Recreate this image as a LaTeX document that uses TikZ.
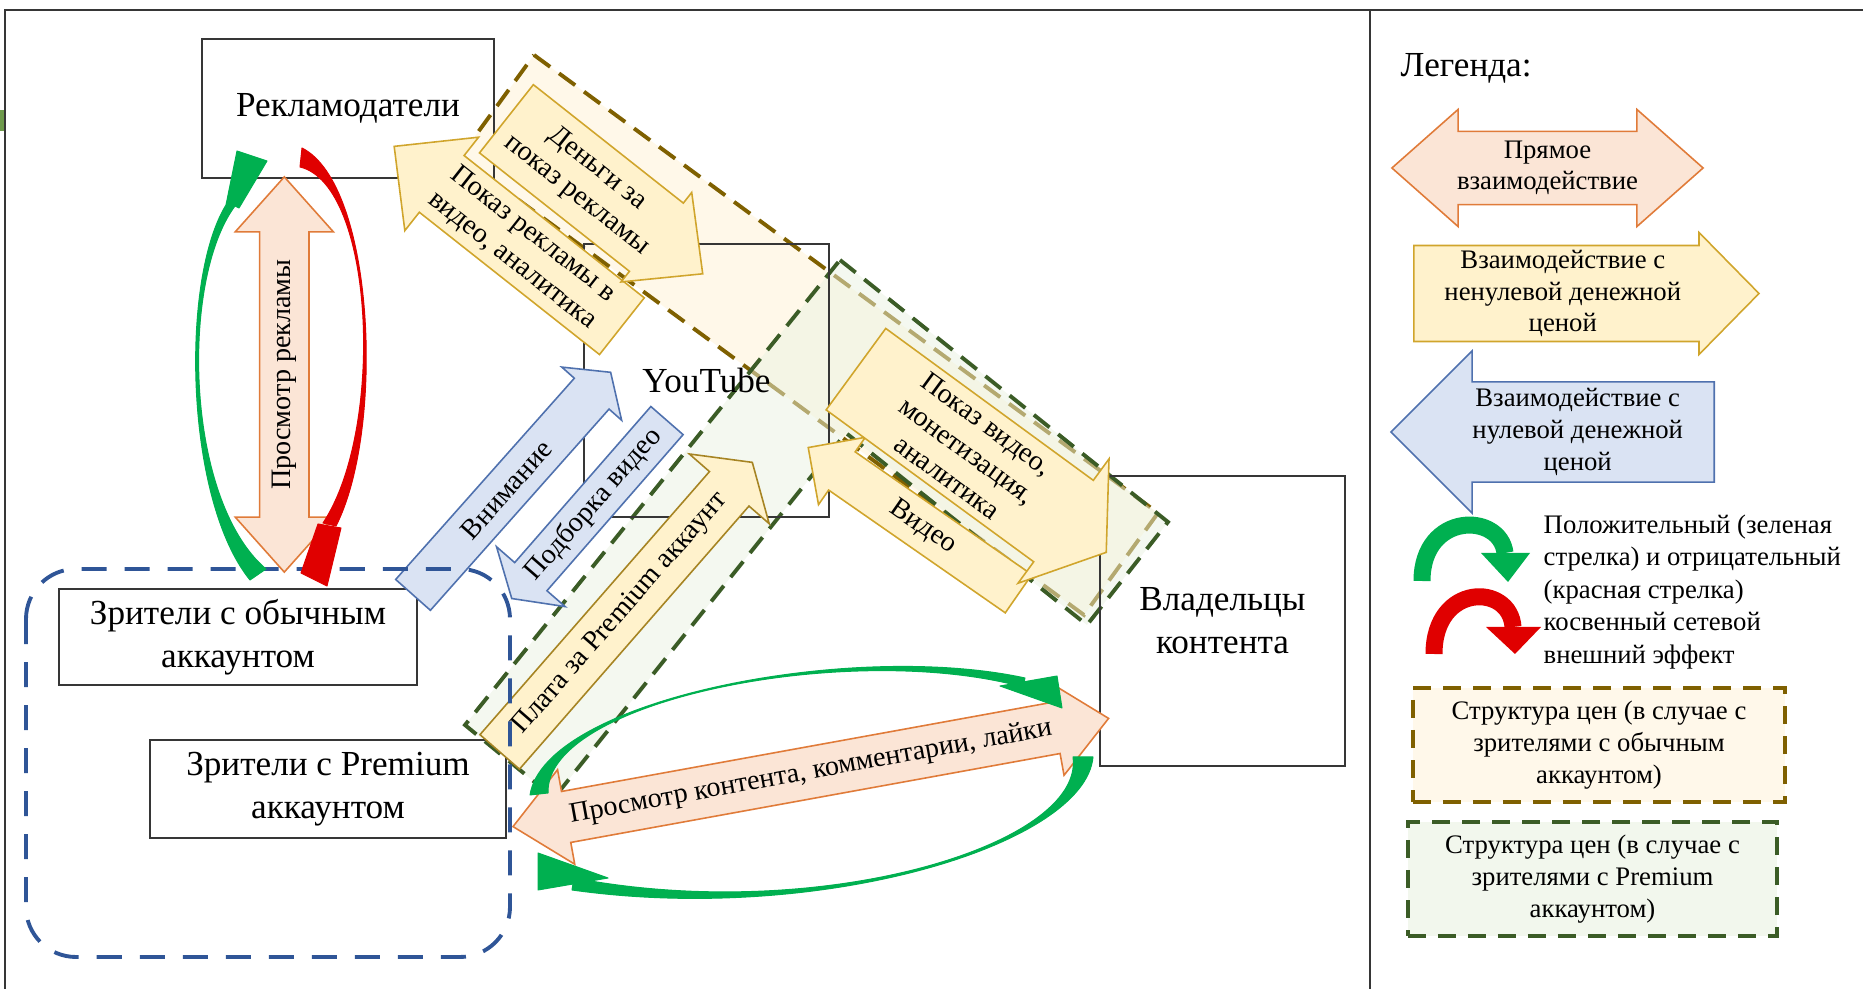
\documentclass[tikz,border=0pt]{standalone}
\usepackage{fontspec}
\setmainfont{Liberation Serif}
\usetikzlibrary{shapes.arrows}

\definecolor{boxline}{HTML}{363636}
\definecolor{peachfill}{HTML}{FBE5D6}
\definecolor{peachline}{HTML}{E07B39}
\definecolor{goldfill}{HTML}{FFF2CC}
\definecolor{goldline}{HTML}{D0A52C}
\definecolor{bluefill}{HTML}{DAE3F3}
\definecolor{blueline}{HTML}{4F71AE}
\definecolor{brownline}{HTML}{7F6000}
\definecolor{brownfill}{HTML}{FFF2D4}
\definecolor{priceline}{HTML}{3B5C26}
\definecolor{pricefill}{HTML}{E9F2E1}
\definecolor{userline}{HTML}{2F5597}
\definecolor{posgreen}{HTML}{00B050}
\definecolor{negred}{HTML}{E00000}
\definecolor{framegreen}{HTML}{6E9A4C}

\tikzset{
  box/.style = {draw=boxline, line width=0.5pt, inner sep=0pt, align=center,
                font=\fontsize{10}{12.2}\selectfont},
  flow/.style = {single arrow, draw, line width=0.45pt, inner sep=0.3mm, align=center,
                 font=\fontsize{8}{9.5}\selectfont},
  twoway/.style = {double arrow, draw, line width=0.45pt, inner sep=0.3mm, align=center,
                   font=\fontsize{8}{9.5}\selectfont},
  direct/.style = {fill=peachfill, draw=peachline},
  paid/.style = {fill=goldfill, draw=goldline},
  free/.style = {fill=bluefill, draw=blueline},
  pricing/.style = {line width=1.1pt, dash pattern=on 2mm off 1.1mm, fill opacity=0.5},
  legbox/.style = {inner sep=0pt, align=center, line width=1.1pt,
                   dash pattern=on 1.8mm off 1.2mm, font=\fontsize{7.6}{9}\selectfont},
  effect/.style = {line width=0.1mm, line join=round}
}

\begin{document}
\begin{tikzpicture}[x=0.01cm, y=-0.01cm]
\useasboundingbox (0,0) rectangle (1863,989);
\fill[framegreen] (0,110) rectangle (5,131);
\draw[boxline, line width=0.7pt] (5,989) -- (5,10) -- (1863,10);
\draw[boxline, line width=0.7pt] (1370,10) -- (1370,989);

\filldraw[pricing, draw=brownline, fill=brownfill] (534,55) -- (1158,513) -- (1084,615) -- (460,157) -- cycle;
\filldraw[pricing, draw=priceline, fill=pricefill] (840,260) -- (1168,522) -- (1087,625) -- (846,433) -- (554,798) -- (465,725) -- cycle;

\begin{scope}[every node/.style = {box}]
  \node[minimum width=29.2mm, minimum height=13.9mm] (1) at (348,108.5) {Рекламодатели};
  \node[minimum width=24.5mm, minimum height=27.3mm] (2) at (706.5,380.5) {YouTube};
  \node[minimum width=24.5mm, minimum height=29mm] (3) at (1222.5,621) {Владельцы\\контента};
  \node[minimum width=35.8mm, minimum height=9.6mm] (4) at (238,637) {Зрители с обычным\\аккаунтом};
  \node[minimum width=35.6mm, minimum height=9.8mm] (5) at (328,789) {Зрители с Premium\\аккаунтом};
\end{scope}

\begin{scope}[every node/.style = {flow, anchor=tail}]
  \node[paid, rotate=-38.3, shape border rotate=180, minimum height=29mm, minimum width=11.9mm,
        single arrow head extend=2.1mm, single arrow tip angle=89] (a2) at (622.5,326.7) {Показ рекламы в\\видео, аналитика};
  \node[paid, rotate=-38.3, minimum height=25mm, minimum width=11.4mm,
        single arrow head extend=1.02mm, single arrow tip angle=88] (a1) at (505.8,118.3) {Деньги за\\показ рекламы};
  \node[paid, rotate=-34.8, shape border rotate=180, minimum height=25.6mm, minimum width=8.2mm,
        single arrow head extend=1.2mm, single arrow tip angle=90] (a4) at (1019.2,594.2) {Видео};
  \node[paid, rotate=-36.2, minimum height=31mm, minimum width=15.4mm,
        single arrow head extend=2.45mm, single arrow tip angle=111] (a3) at (855.3,368.7) {Показ видео,\\монетизация,\\аналитика};
  \node[free, rotate=48.4, minimum height=29.75mm, minimum width=8mm,
        single arrow head extend=0.95mm, single arrow tip angle=109] (a5) at (412.5,595.5) {Внимание};
  \node[free, rotate=48.9, shape border rotate=180, minimum height=23.6mm, minimum width=9.1mm,
        single arrow head extend=1.9mm, single arrow tip angle=115] (a6) at (667.5,420) {Подборка видео};
  \node[paid, draw=goldline!80!black, rotate=48.9, minimum height=38.4mm, minimum width=10.6mm,
        single arrow head extend=1.65mm, single arrow tip angle=113] (a7) at (499.2,752.5) {Плата за Premium аккаунт};
\end{scope}

\begin{scope}[every node/.style = {twoway, direct}]
  \node[rotate=90, minimum height=39.5mm, minimum width=9.8mm,
        double arrow head extend=1.57mm, double arrow tip angle=83.5] (d1) at (284.3,374.5) {Просмотр рекламы};
  \node[rotate=10.3, minimum height=60.5mm, minimum width=9.6mm,
        double arrow head extend=1.4mm, double arrow tip angle=83.3] (d2) at (810.8,772.5) {Просмотр контента, комментарии, лайки};
\end{scope}

\draw[userline, line width=1.1pt, dash pattern=on 2.5mm off 1.8mm, rounded corners=5mm] (26,569) rectangle (510,957);

\coordinate (gl0) at (250,580);  \coordinate (gl1) at (266,569);
\coordinate (gl2) at (226,205);  \coordinate (gl3) at (235,206);
\filldraw[effect, posgreen] (gl0) .. controls (185,500) and (180,280) .. (gl2) -- (gl3) .. controls (180,280) and (185,500) .. (gl1) -- cycle;
\filldraw[effect, posgreen] (gl2) -- (237,151) -- (267,161) -- (239,208) -- (gl3) -- cycle;

\coordinate (rl0) at (302,148);  \coordinate (rl1) at (300,167);
\coordinate (rl2) at (336,526);  \coordinate (rl3) at (323,523);
\filldraw[effect, negred] (rl0) .. controls (375,185) and (385,430) .. (rl2) -- (rl3) .. controls (385,430) and (375,185) .. (rl1) -- cycle;
\filldraw[effect, negred] (318,524) -- (341,528) -- (327,586) -- (301,573) -- cycle;

\coordinate (gu0) at (530,795);  \coordinate (gu1) at (548,793);
\coordinate (gu2) at (1025,678); \coordinate (gu3) at (1023,687);
\filldraw[effect, posgreen] (gu0) .. controls (545,700) and (850,640) .. (gu2) -- (gu3) .. controls (850,640) and (545,700) .. (gu1) -- cycle;
\filldraw[effect, posgreen] (1000,686) -- (1057,676) -- (1062,708) -- cycle;

\coordinate (gd0) at (1093,757); \coordinate (gd1) at (1073,757);
\coordinate (gd2) at (572,890);  \coordinate (gd3) at (574,878);
\filldraw[effect, posgreen] (gd0) .. controls (1085,845) and (820,925) .. (gd2) -- (gd3) .. controls (820,925) and (1085,845) .. (gd1) -- cycle;
\filldraw[effect, posgreen] (538,853) -- (538,890) -- (608,878) -- cycle;

\node[anchor=west, inner sep=0pt, font=\fontsize{10}{12}\selectfont] (leg) at (1400,68) {Легенда:};
\node[twoway, direct, font=\fontsize{7.6}{9}\selectfont, minimum height=31.1mm, minimum width=11.7mm,
      double arrow head extend=1.85mm, double arrow tip angle=83] (l1) at (1547.5,168) {Прямое\\\makebox[0pt]{взаимодействие}};
\node[flow, paid, anchor=tail, font=\fontsize{7.6}{9}\selectfont, inner sep=0.2mm, minimum height=34.5mm, minimum width=12.2mm,
      single arrow head extend=1.25mm, single arrow tip angle=91] (l2) at (1413,293.5) {Взаимодействие с\\ненулевой денежной\\ценой};
\node[flow, free, anchor=tail, shape border rotate=180, font=\fontsize{7.6}{9}\selectfont, minimum height=32.3mm, minimum width=16.2mm,
      single arrow head extend=2.9mm, single arrow tip angle=90] (l3) at (1715,432) {Взаимодействие с\\нулевой денежной\\ценой};

\draw[posgreen, line width=1.7mm] (1422,581) .. controls (1422,512) and (1500,512) .. (1505,553);
\fill[posgreen] (1481,553) -- (1530,553) -- (1508,582) -- cycle;
\draw[negred, line width=1.7mm] (1434,654) .. controls (1434,583) and (1510,583) .. (1513,627);
\fill[negred] (1486,627) -- (1541,627) -- (1515,654) -- cycle;
\node[anchor=west, inner sep=0pt, align=left, font=\fontsize{7.6}{9.25}\selectfont] (l4) at (1543,592)
  {Положительный (зеленая\\стрелка) и отрицательный\\(красная стрелка)\\косвенный сетевой\\внешний эффект};

\node[legbox, draw=brownline, fill=brownfill!50, minimum width=37.2mm, minimum height=11.4mm] (l5) at (1599,745)
  {Структура цен (в случае с\\зрителями с обычным\\аккаунтом)};
\node[legbox, draw=priceline, fill=pricefill!60, minimum width=36.9mm, minimum height=11.4mm] (l6) at (1592.5,879)
  {Структура цен (в случае с\\зрителями с Premium\\аккаунтом)};
\end{tikzpicture}
\end{document}
